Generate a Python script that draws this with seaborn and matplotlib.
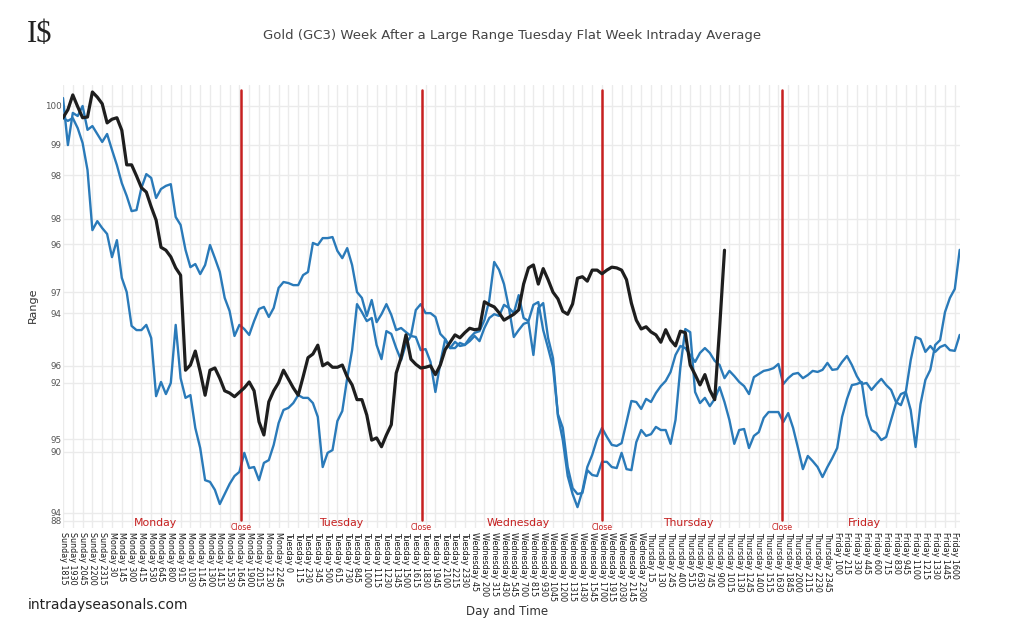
import numpy as np
import pandas as pd
import matplotlib
matplotlib.use("Agg")
import matplotlib.pyplot as plt
import matplotlib.transforms as mtransforms
import seaborn as sns

# x tick labels (one every 75 minutes of the trading week)
tick_labels = [
    "Sunday 1815", "Sunday 1930", "Sunday 2045", "Sunday 2200", "Sunday 2315",
    "Monday 30", "Monday 145", "Monday 300", "Monday 415", "Monday 530", "Monday 645",
    "Monday 800", "Monday 915", "Monday 1030", "Monday 1145", "Monday 1300", "Monday 1415",
    "Monday 1530", "Monday 1645", "Monday 1900", "Monday 2015", "Monday 2130", "Monday 2245",
    "Tuesday 0", "Tuesday 115", "Tuesday 230", "Tuesday 345", "Tuesday 500", "Tuesday 615",
    "Tuesday 730", "Tuesday 845", "Tuesday 1000", "Tuesday 1115", "Tuesday 1230", "Tuesday 1345",
    "Tuesday 1500", "Tuesday 1615", "Tuesday 1830", "Tuesday 1945", "Tuesday 2100", "Tuesday 2215",
    "Tuesday 2330",
    "Wednesday 45", "Wednesday 200", "Wednesday 315", "Wednesday 430", "Wednesday 545",
    "Wednesday 700", "Wednesday 815", "Wednesday 930", "Wednesday 1045", "Wednesday 1200",
    "Wednesday 1315", "Wednesday 1430", "Wednesday 1545", "Wednesday 1700", "Wednesday 1915",
    "Wednesday 2030", "Wednesday 2145", "Wednesday 2300",
    "Thursday 15", "Thursday 130", "Thursday 245", "Thursday 400", "Thursday 515", "Thursday 630",
    "Thursday 745", "Thursday 900", "Thursday 1015", "Thursday 1130", "Thursday 1245",
    "Thursday 1400", "Thursday 1515", "Thursday 1630", "Thursday 1845", "Thursday 2000",
    "Thursday 2115", "Thursday 2230", "Thursday 2345",
    "Friday 100", "Friday 215", "Friday 330", "Friday 445", "Friday 600", "Friday 715",
    "Friday 830", "Friday 945", "Friday 1100", "Friday 1215", "Friday 1330", "Friday 1445",
    "Friday 1600",
]

# two blue series (left scale 88-100), sampled every half tick
blue_a = [
    100.23, 98.87, 99.80, 99.71, 100.00, 99.31, 99.42, 99.19, 98.96, 99.19,
    98.73, 98.29, 97.77, 97.40, 96.96, 96.99, 97.63, 98.03, 97.92, 97.34,
    97.60, 97.69, 97.74, 96.79, 96.56, 95.84, 95.34, 95.43, 95.14, 95.40,
    95.98, 95.60, 95.20, 94.45, 94.07, 93.35, 93.67, 93.55, 93.38, 93.78,
    94.13, 94.19, 93.90, 94.16, 94.74, 94.91, 94.88, 94.82, 94.82, 95.11,
    95.20, 96.04, 95.98, 96.18, 96.18, 96.21, 95.81, 95.60, 95.89, 95.40,
    94.62, 94.45, 93.93, 94.39, 93.75, 93.98, 94.27, 93.96, 93.52, 93.58,
    93.46, 93.35, 94.10, 94.27, 94.01, 94.01, 93.90, 93.41, 93.26, 93.00,
    93.18, 93.06, 93.09, 93.29, 93.44, 93.49, 93.81, 94.39, 95.49, 95.26,
    94.85, 94.16, 93.32, 93.52, 93.70, 93.75, 92.80, 94.16, 94.30, 93.29,
    92.71, 91.04, 90.34, 89.30, 88.78, 88.40, 88.87, 89.56, 89.91, 90.37,
    90.69, 90.43, 90.20, 90.17, 90.25, 90.86, 91.47, 91.44, 91.24, 91.53,
    91.44, 91.70, 91.90, 92.05, 92.31, 92.80, 93.06, 93.00, 92.80, 92.60,
    92.86, 93.00, 92.86, 92.63, 92.51, 92.13, 92.34, 92.19, 92.02, 91.90,
    91.67, 92.16, 92.25, 92.34, 92.37, 92.42, 92.54, 91.96, 92.13, 92.25,
    92.28, 92.13, 92.22, 92.34, 92.31, 92.37, 92.57, 92.37, 92.39, 92.60,
    92.77, 92.51, 92.19, 91.96, 91.99, 91.79, 91.96, 92.11, 91.93, 91.79,
    91.44, 91.35, 91.73, 92.65, 93.32, 93.26, 92.89, 93.06, 92.89, 93.03,
    93.09, 92.94, 92.92, 93.38,
]
blue_b = [
    99.65, 99.57, 99.65, 99.36, 98.93, 98.15, 96.41, 96.67, 96.47, 96.30,
    95.63, 96.12, 95.03, 94.62, 93.64, 93.52, 93.52, 93.67, 93.29, 91.61,
    92.02, 91.67, 91.99, 93.67, 92.13, 91.56, 91.64, 90.69, 90.11, 89.18,
    89.13, 88.90, 88.49, 88.78, 89.07, 89.30, 89.42, 89.97, 89.53, 89.56,
    89.18, 89.68, 89.76, 90.20, 90.83, 91.21, 91.27, 91.41, 91.64, 91.56,
    91.56, 91.41, 91.01, 89.56, 89.97, 90.05, 90.89, 91.18, 92.13, 92.94,
    94.27, 94.04, 93.78, 93.87, 93.09, 92.68, 93.49, 93.41, 93.00, 92.65,
    93.12, 93.35, 93.32, 92.94, 92.97, 92.60, 91.73, 92.57, 93.26, 93.00,
    93.00, 93.15, 93.09, 93.20, 93.35, 93.20, 93.58, 93.87, 93.98, 93.93,
    94.25, 94.16, 94.01, 94.53, 93.87, 93.78, 94.25, 94.33, 93.52, 93.00,
    92.45, 91.09, 90.69, 89.56, 88.95, 88.78, 88.81, 89.47, 89.33, 89.30,
    89.71, 89.71, 89.56, 89.53, 89.97, 89.50, 89.47, 90.28, 90.63, 90.46,
    90.51, 90.72, 90.63, 90.63, 90.23, 90.92, 92.45, 93.55, 93.46, 91.73,
    91.41, 91.56, 91.32, 91.53, 91.87, 91.44, 90.92, 90.23, 90.63, 90.66,
    90.11, 90.46, 90.57, 90.98, 91.15, 91.15, 91.15, 90.86, 91.12, 90.69,
    90.11, 89.50, 89.88, 89.73, 89.56, 89.27, 89.56, 89.82, 90.11, 91.01,
    91.53, 91.93, 91.96, 92.02, 91.06, 90.63, 90.54, 90.34, 90.43, 90.92,
    91.41, 91.67, 91.73, 91.21, 90.14, 91.38, 92.08, 92.37, 93.09, 93.23,
    94.04, 94.45, 94.71, 95.84,
]
# black series (overlaid scale 94-99), ends on Thursday morning
black = [
    99.37, 99.48, 99.68, 99.52, 99.37, 99.38, 99.72, 99.65, 99.56, 99.30,
    99.35, 99.37, 99.20, 98.73, 98.73, 98.58, 98.42, 98.36, 98.16, 97.98,
    97.61, 97.57, 97.48, 97.33, 97.23, 95.94, 96.01, 96.20, 95.92, 95.60,
    95.94, 95.97, 95.83, 95.66, 95.63, 95.58, 95.64, 95.70, 95.78, 95.66,
    95.24, 95.06, 95.51, 95.66, 95.77, 95.94, 95.82, 95.70, 95.60, 95.85,
    96.11, 96.16, 96.28, 96.00, 96.04, 95.98, 95.98, 96.01, 95.85, 95.74,
    95.54, 95.54, 95.33, 94.99, 95.02, 94.90, 95.06, 95.20, 95.90, 96.11,
    96.42, 96.09, 96.02, 95.97, 95.98, 96.00, 95.88, 96.01, 96.22, 96.32,
    96.42, 96.38, 96.45, 96.51, 96.49, 96.50, 96.87, 96.83, 96.80, 96.72,
    96.62, 96.66, 96.70, 96.76, 97.11, 97.33, 97.37, 97.11, 97.32, 97.17,
    97.00, 96.91, 96.74, 96.70, 96.84, 97.19, 97.21, 97.15, 97.30, 97.30,
    97.25, 97.30, 97.34, 97.33, 97.30, 97.17, 96.85, 96.62, 96.50, 96.53,
    96.46, 96.42, 96.32, 96.49, 96.35, 96.27, 96.47, 96.45, 96.01, 95.88,
    95.74, 95.88, 95.67, 95.54, 96.51, 97.57,
]

blue_ticks = [88, 90, 92, 94, 96, 98, 100]
black_ticks = [94, 95, 96, 97, 98, 99]
days = ["Monday", "Tuesday", "Wednesday", "Thursday", "Friday"]
day_pos = [9.4, 28.4, 46.4, 63.8, 81.8]
close_pos = [18.2, 36.6, 55.0, 73.4]

step = 0.5
df_blue = pd.DataFrame({"t": np.arange(len(blue_a)) * step, "a": blue_a, "b": blue_b})
df_black = pd.DataFrame({"t": np.arange(len(black)) * step, "v": black})

sns.set_theme(style="white")
plt.rcParams["font.family"] = ["DejaVu Sans"]

grid_c = "#ebebeb"
blue_c = "#2a7ab9"
red_c = "#c62020"

fig = plt.figure(figsize=(10.24, 6.39), dpi=100)
ax = fig.add_axes([63 / 1024, 1 - 528 / 639, (959.7 - 63) / 1024, (528 - 85) / 639])
ax2 = ax.twinx()

ax.set_xlim(0, df_blue["t"].iloc[-1])
ax.set_ylim(87.797, 100.607)
ax2.set_ylim(93.796, 99.815)

# grid: verticals at every tick, horizontals for both overlaid scales
for i in range(len(tick_labels)):
    ax.axvline(i, color=grid_c, lw=1, zorder=0)
for v in blue_ticks:
    ax.axhline(v, color=grid_c, lw=1, zorder=0)
trans = mtransforms.blended_transform_factory(ax.transAxes, ax2.transData)
for v in black_ticks:
    ax.plot([0, 1], [v, v], transform=trans, color=grid_c, lw=1, zorder=0)

sns.lineplot(data=df_blue, x="t", y="a", ax=ax, color=blue_c, linewidth=1.7, zorder=3)
sns.lineplot(data=df_blue, x="t", y="b", ax=ax, color=blue_c, linewidth=1.7, zorder=3)
sns.lineplot(data=df_black, x="t", y="v", ax=ax2, color="#1e1e1e", linewidth=2.3, zorder=4)

for xc in close_pos:
    ax.axvline(xc, ymin=0.018, ymax=0.989, color=red_c, lw=1.8, zorder=5)

ax.set_xticks(range(len(tick_labels)))
ax.set_xticklabels(tick_labels, rotation=-90, fontsize=5.8, color="#1a1a1a", va="top", ha="center")
ax.tick_params(axis="x", length=0, pad=3)
ax.set_yticks(blue_ticks)
ax.set_yticklabels([str(v) for v in blue_ticks], fontsize=6.3, color="#555555")
ax.tick_params(axis="y", length=0, pad=1)
ax2.yaxis.tick_left()
ax2.set_yticks(black_ticks)
ax2.set_yticklabels([str(v) for v in black_ticks], fontsize=6.3, color="#555555")
ax2.tick_params(axis="y", length=0, pad=1)
ax.set_xlabel("")
ax.set_ylabel("")
ax2.set_ylabel("")
for a in (ax, ax2):
    for s in a.spines.values():
        s.set_visible(False)

lab_tr = mtransforms.blended_transform_factory(ax.transData, ax.transAxes)
for name, xp in zip(days, day_pos):
    ax.text(xp, 0.011, name, transform=lab_tr, color=red_c, fontsize=7.8,
            ha="center", va="center", zorder=6)
for xc in close_pos:
    ax.text(xc, 0.0, "Close", transform=lab_tr, color=red_c, fontsize=5.6,
            ha="center", va="center", zorder=6)

fig.text(512 / 1024, 1 - 36 / 639, "Gold (GC3) Week After a Large Range Tuesday Flat Week Intraday Average",
         ha="center", va="center", fontsize=9.5, color="#444444")
fig.text(40 / 1024, 1 - 35 / 639, "I$", ha="center", va="center", fontsize=22,
         family="Liberation Serif", color="#222222")
fig.text(33 / 1024, 1 - 305 / 639, "Range", rotation=90, ha="center", va="center",
         fontsize=8, color="#333333")
fig.text(507 / 1024, 1 - 611 / 639, "Day and Time", ha="center", va="center",
         fontsize=8.5, color="#333333")
fig.text(28 / 1024, 1 - 605 / 639, "intradayseasonals.com", ha="left", va="center",
         fontsize=10, color="#222222")

fig.savefig("out.png", dpi=100)
